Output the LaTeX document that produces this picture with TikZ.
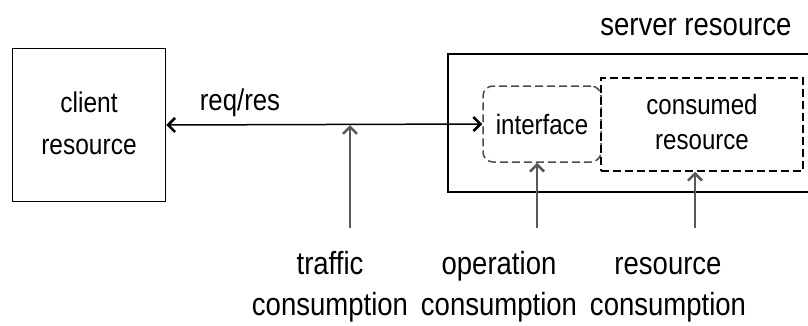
\documentclass[tikz,border=0pt]{standalone}
\usepackage{fontspec}
\setmainfont{Liberation Sans}[FakeStretch=0.86]
\usetikzlibrary{arrows.meta}

\begin{document}
\begin{tikzpicture}[x=1pt,y=-1pt]
\tikzstyle{every node}+=[inner sep=0pt]
\tikzstyle{outer}=[font=\fontsize{32}{41}\selectfont, align=center]
\tikzstyle{inner}=[font=\fontsize{28}{35}\selectfont, align=center]
\tikzstyle{tip}=[-{Straight Barb[length=7pt,width=14pt,line width=2.6pt]}]
\tikzstyle{feed}=[draw=black!65, line width=1.5pt, tip]
\useasboundingbox (0,0) rectangle (808,325);
% client side
\node [draw, line width=1.5pt, minimum width=153, minimum height=153, inner,
  font=\fontsize{28.5}{42}\selectfont] (client) at (89,125) {\strut client\\\strut resource};
% server side
\draw [line width=1.5pt] (812,54) -- (448,54) -- (448,192) -- (812,192);
\node [outer] (server) at (696,27) {server resource};
\node [draw=black!70, dash pattern=on 8pt off 4pt, line width=1.5pt,
  rounded corners=10pt, minimum width=118, minimum height=76, inner] (iface) at (542,124) {interface};
\node [draw, dash pattern=on 8pt off 4pt, line width=1.5pt,
  minimum width=202, minimum height=93, inner] (cres) at (702,124.5) {\strut consumed\\\strut resource};
% request / response
\draw [line width=1.5pt, {Straight Barb[length=7pt,width=14pt,line width=2.6pt]}-{Straight Barb[length=7pt,width=14pt,line width=2.6pt]}]
  (client.east) -- (iface.west);
\node [font=\fontsize{30}{36}\selectfont] (req) at (240,103) {req/res};
% consumption labels
\node [outer] (traffic) at (330,287) {\strut traffic\\\strut consumption};
\node [outer] (oper) at (499,287) {\strut operation\\\strut consumption};
\node [outer] (resrc) at (668,287) {\strut resource\\\strut consumption};
\coordinate (tfoot) at (350,228);
\coordinate (ofoot) at (537,228);
\coordinate (rfoot) at (695,228);
\draw [feed] (tfoot) -- (tfoot |- client.east);
\draw [feed] (ofoot) -- (ofoot |- iface.south);
\draw [feed] (rfoot) -- (rfoot |- cres.south);
\end{tikzpicture}
\end{document}
